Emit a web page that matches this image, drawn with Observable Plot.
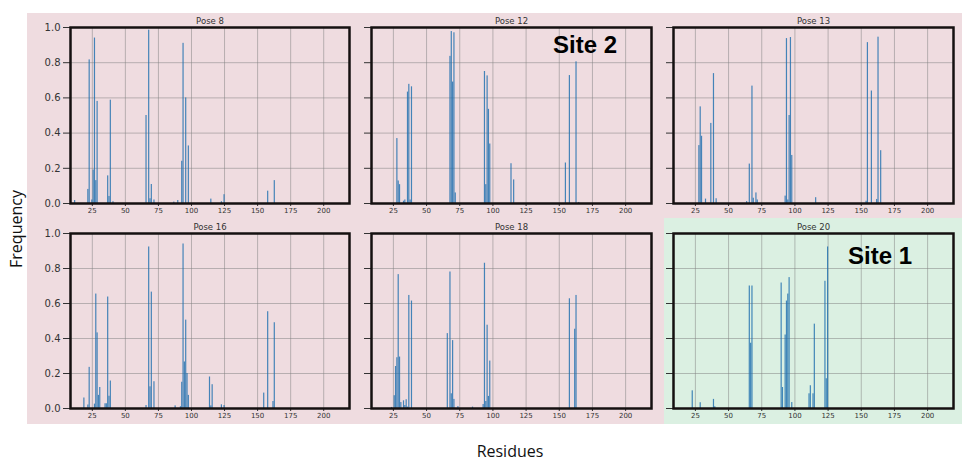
<!DOCTYPE html>
<html>
<head>
<meta charset="utf-8">
<script src="https://cdn.jsdelivr.net/npm/d3@7"></script>
<script src="https://cdn.jsdelivr.net/npm/@observablehq/plot@0.6"></script>
<style>
  html, body { margin: 0; padding: 0; background: #ffffff; }
  #root { position: relative; width: 962px; height: 463px; overflow: hidden; background: #ffffff; }
  .bg { position: absolute; }
  .panel { position: absolute; }
  .site { position: absolute; font-family: "Liberation Sans", Arial, sans-serif; font-weight: bold; font-size: 24px; color: #000; line-height: 1; white-space: nowrap; }
  .axlabel { position: absolute; font-family: "Open Sans", "Liberation Sans", sans-serif; font-size: 16px; line-height: 1.1; color: #111; white-space: nowrap; }
</style>
</head>
<body>
<div id="root">
  <div class="bg" style="left:27px;top:13px;width:935px;height:411px;background:#efdce0"></div>
  <div class="bg" style="left:664px;top:218px;width:298px;height:206px;background:#dbf0e2"></div>
</div>
<script>
// ---- data ----
const xTicks = [25, 50, 75, 100, 125, 150, 175, 200];
const yTicks = [0, 0.2, 0.4, 0.6, 0.8, 1.0];
const titles = ["Pose 8", "Pose 12", "Pose 13", "Pose 16", "Pose 18", "Pose 20"];

const pose8Res  = [12, 22, 23, 25, 26, 27, 28, 29, 37, 38, 39, 41, 66, 68, 69, 70, 72, 87, 90, 93, 94, 96, 98, 115, 123, 125, 158, 163];
const pose8Freq = [0.017, 0.08, 0.816, 0.02, 0.19, 0.94, 0.13, 0.58, 0.157, 0.04, 0.587, 0.01, 0.5, 0.985, 0.027, 0.108, 0.02, 0.008, 0.017, 0.24, 0.91, 0.6, 0.327, 0.025, 0.01, 0.05, 0.07, 0.13];

const pose12Res  = [28, 29, 30, 33, 34, 36, 37, 38, 39, 68, 69, 70, 71, 72, 94, 95, 96, 97, 98, 114, 116, 155, 158, 163, 165];
const pose12Freq = [0.369, 0.128, 0.107, 0.013, 0.02, 0.633, 0.677, 0.02, 0.663, 0.836, 0.977, 0.69, 0.97, 0.06, 0.75, 0.107, 0.725, 0.535, 0.338, 0.226, 0.134, 0.23, 0.727, 0.805, 0.006];

const pose13Res  = [28, 29, 30, 33, 37, 39, 41, 64, 66, 68, 69, 71, 72, 93, 94, 95, 96, 97, 98, 116, 154, 155, 158, 162, 163, 165];
const pose13Freq = [0.329, 0.549, 0.382, 0.025, 0.455, 0.738, 0.027, 0.011, 0.224, 0.667, 0.03, 0.06, 0.02, 0.042, 0.937, 0.02, 0.5, 0.943, 0.273, 0.033, 0.013, 0.914, 0.639, 0.023, 0.945, 0.3];

const pose16Res  = [19, 22, 23, 27, 28, 29, 30, 31, 35, 36, 37, 38, 39, 66, 68, 69, 70, 72, 88, 92, 93, 94, 95, 96, 97, 98, 114, 115, 116, 123, 125, 155, 158, 162, 163];
const pose16Freq = [0.06, 0.02, 0.235, 0.025, 0.654, 0.432, 0.075, 0.12, 0.027, 0.027, 0.637, 0.07, 0.157, 0.017, 0.923, 0.124, 0.665, 0.153, 0.015, 0.01, 0.15, 0.94, 0.266, 0.505, 0.2, 0.075, 0.18, 0.015, 0.136, 0.021, 0.017, 0.088, 0.553, 0.04, 0.49];

const pose18Res  = [24, 26, 27, 28, 29, 30, 31, 33, 34, 35, 36, 37, 39, 66, 68, 69, 70, 71, 74, 85, 93, 94, 95, 96, 97, 98, 158, 162, 163];
const pose18Freq = [0.006, 0.073, 0.24, 0.29, 0.765, 0.294, 0.034, 0.044, 0.017, 0.05, 0.008, 0.646, 0.614, 0.428, 0.78, 0.084, 0.388, 0.052, 0.011, 0.008, 0.023, 0.83, 0.04, 0.476, 0.069, 0.271, 0.627, 0.453, 0.646];

const pose20Res  = [23, 29, 39, 40, 66, 67, 68, 90, 91, 93, 94, 95, 96, 98, 111, 112, 114, 115, 123, 124, 125];
const pose20Freq = [0.101, 0.033, 0.052, 0.01, 0.7, 0.373, 0.7, 0.717, 0.12, 0.42, 0.614, 0.654, 0.748, 0.034, 0.084, 0.13, 0.084, 0.482, 0.727, 0.17, 0.923];

const siteLabels = [{text: "Site 2", panel: 1}, {text: "Site 1", panel: 5}];

// ---- layout ----
const colX = [[70, 349], [371, 651], [673, 953]];
const rowY = [[27, 203], [233, 408]];
const series = [
  [pose8Res, pose8Freq], [pose12Res, pose12Freq], [pose13Res, pose13Freq],
  [pose16Res, pose16Freq], [pose18Res, pose18Freq], [pose20Res, pose20Freq]
];

const root = document.getElementById("root");
const mL = 45, mR = 8, mT = 16, mB = 20;

series.forEach(([res, freq], i) => {
  const col = i % 3, row = Math.floor(i / 3);
  const [x1, x2] = colX[col], [y1, y2] = rowY[row];
  const data = res.map((r, j) => ({r, f: freq[j]}));
  const chart = Plot.plot({
    width: x2 - x1 + mL + mR,
    height: y2 - y1 + mT + mB,
    marginLeft: mL, marginRight: mR, marginTop: mT, marginBottom: mB,
    style: {background: "transparent", fontFamily: "'DejaVu Sans', sans-serif", fontSize: "10px", color: "#333", overflow: "visible"},
    x: {domain: [8.5, 219.5], ticks: xTicks, tickSize: 3, tickPadding: 2, label: null, tickFormat: d => String(d)},
    y: {domain: [0, 1], ticks: yTicks, tickSize: 7, tickPadding: 3, label: null,
        tickFormat: col === 0 ? (d => d.toFixed(1)) : (() => "")},
    marks: [
      Plot.ruleX(xTicks, {stroke: "#808080", strokeOpacity: 0.5, strokeWidth: 1}),
      Plot.ruleY(yTicks, {stroke: "#808080", strokeOpacity: 0.5, strokeWidth: 1}),
      Plot.rect(data, {x1: d => d.r - 0.45, x2: d => d.r + 0.45, y1: () => 0, y2: "f", fill: "#1f6fae", fillOpacity: 0.82}),
      Plot.frame({stroke: "#151010", strokeWidth: 2.5}),
      Plot.text([titles[i]], {frameAnchor: "top", dy: -4, lineAnchor: "bottom", fontSize: 8.5, fill: "#333"})
    ]
  });
  chart.querySelectorAll('g[aria-label^="x-axis"]').forEach(g => { g.style.fontSize = "7px"; });
  chart.querySelectorAll('g[aria-label^="y-axis"]').forEach(g => { g.style.fontSize = "10px"; });
  const wrap = document.createElement("div");
  wrap.className = "panel";
  wrap.style.left = (x1 - mL) + "px";
  wrap.style.top = (y1 - mT) + "px";
  wrap.appendChild(chart);
  root.appendChild(wrap);
});

// Site annotations
const sitePos = {1: {left: 553, top: 33}, 5: {left: 848, top: 244}};
siteLabels.forEach(s => {
  const d = document.createElement("div");
  d.className = "site";
  d.textContent = s.text;
  d.style.left = sitePos[s.panel].left + "px";
  d.style.top = sitePos[s.panel].top + "px";
  root.appendChild(d);
});

// Shared axis labels
const yl = document.createElement("div");
yl.className = "axlabel";
yl.textContent = "Frequency";
yl.style.left = "17px"; yl.style.top = "229px";
yl.style.transform = "translate(-50%, -50%) rotate(-90deg)";
root.appendChild(yl);

const xl = document.createElement("div");
xl.className = "axlabel";
xl.textContent = "Residues";
xl.style.left = "510px"; xl.style.top = "452px";
xl.style.transform = "translate(-50%, -50%)";
root.appendChild(xl);
</script>
</body>
</html>
